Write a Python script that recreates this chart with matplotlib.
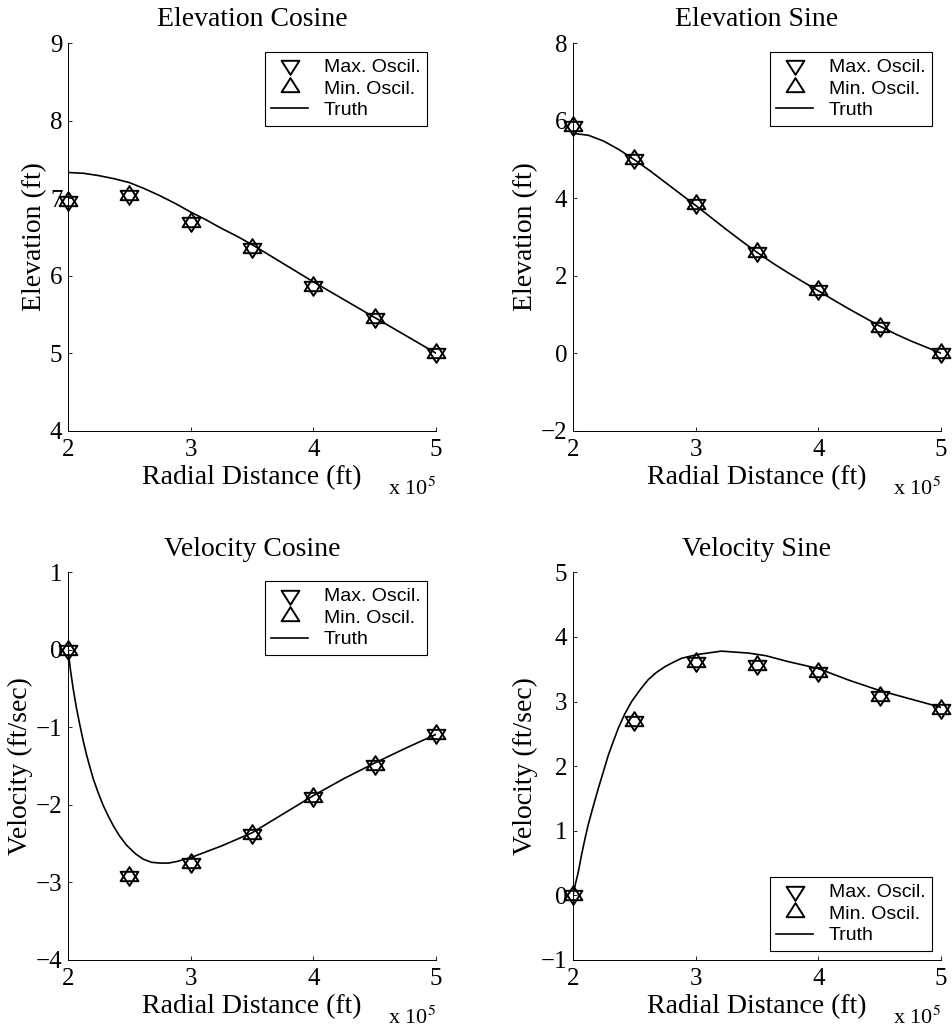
import matplotlib
matplotlib.use("Agg")
import matplotlib.pyplot as plt
from matplotlib.path import Path

plt.rcParams['font.family'] = ['Liberation Serif', 'DejaVu Serif']
plt.rcParams['mathtext.fontset'] = 'stix'
plt.rcParams['axes.unicode_minus'] = True

# ---- data (radial distance in units of 1e5 ft) ----
x_pts = [2.0, 2.5, 3.0, 3.5, 4.0, 4.5, 5.0]

elev_cos_max = [6.96, 7.04, 6.69, 6.35, 5.87, 5.45, 5.00]
elev_cos_min = [6.96, 7.04, 6.69, 6.35, 5.87, 5.45, 5.00]
elev_cos_tx = [2.0, 2.125, 2.25, 2.375, 2.5, 2.625, 2.75, 2.875, 3.0, 3.125, 3.25,
               3.375, 3.5, 3.625, 3.75, 3.875, 4.0, 4.25, 4.5, 4.75, 5.0]
elev_cos_ty = [7.33, 7.32, 7.29, 7.25, 7.20, 7.12, 7.03, 6.93, 6.82, 6.72, 6.61,
               6.51, 6.40, 6.28, 6.16, 6.04, 5.92, 5.69, 5.46, 5.23, 5.00]

elev_sin_max = [5.85, 5.00, 3.84, 2.60, 1.64, 0.67, 0.00]
elev_sin_min = [5.85, 5.00, 3.84, 2.60, 1.64, 0.67, 0.00]
elev_sin_tx = [2.0, 2.125, 2.25, 2.375, 2.5, 2.625, 2.75, 2.875, 3.0, 3.125, 3.25,
               3.375, 3.5, 3.625, 3.75, 3.875, 4.0, 4.125, 4.25, 4.375, 4.5,
               4.625, 4.75, 4.875, 5.0]
elev_sin_ty = [5.67, 5.62, 5.47, 5.25, 4.99, 4.71, 4.41, 4.11, 3.81, 3.50, 3.19,
               2.89, 2.60, 2.33, 2.08, 1.84, 1.61, 1.37, 1.14, 0.92, 0.70,
               0.50, 0.32, 0.16, 0.00]

vel_cos_max = [0.00, -2.92, -2.75, -2.38, -1.90, -1.48, -1.08]
vel_cos_min = [0.00, -2.92, -2.75, -2.38, -1.90, -1.48, -1.08]
vel_cos_tx = [2.0, 2.02, 2.043, 2.07, 2.098, 2.125, 2.152, 2.18, 2.207, 2.25, 2.288,
              2.33, 2.37, 2.42, 2.478, 2.55, 2.614, 2.68, 2.75, 2.82, 2.886, 3.0,
              3.25, 3.5, 3.75, 4.0, 4.25, 4.5, 4.75, 5.0]
vel_cos_ty = [0.00, -0.26, -0.51, -0.76, -0.98, -1.18, -1.36, -1.52, -1.67, -1.86, -2.01,
              -2.15, -2.27, -2.40, -2.52, -2.63, -2.70, -2.74, -2.75, -2.75, -2.73, -2.68,
              -2.53, -2.36, -2.12, -1.88, -1.66, -1.46, -1.27, -1.09]

vel_sin_max = [0.00, 2.70, 3.61, 3.56, 3.45, 3.09, 2.88]
vel_sin_min = [0.00, 2.70, 3.61, 3.56, 3.45, 3.09, 2.88]
vel_sin_tx = [2.0, 2.02, 2.043, 2.07, 2.098, 2.125, 2.152, 2.18, 2.207, 2.25, 2.288,
              2.33, 2.37, 2.42, 2.478, 2.55, 2.614, 2.68, 2.75, 2.82, 2.886, 3.02,
              3.21, 3.43, 3.57, 3.75, 4.0, 4.25, 4.5, 4.75, 5.0]
vel_sin_ty = [0.00, 0.18, 0.36, 0.63, 0.88, 1.10, 1.29, 1.48, 1.66, 1.93, 2.17,
              2.39, 2.59, 2.80, 3.00, 3.19, 3.34, 3.45, 3.54, 3.61, 3.67, 3.73,
              3.78, 3.75, 3.71, 3.62, 3.51, 3.33, 3.17, 3.04, 2.91]

titles = ["Elevation Cosine", "Elevation Sine", "Velocity Cosine", "Velocity Sine"]
ylabels = ["Elevation (ft)", "Elevation (ft)", "Velocity (ft/sec)", "Velocity (ft/sec)"]
xlabel = "Radial Distance (ft)"
ylims = [(4, 9), (-2, 8), (-4, 1), (-1, 5)]
yticks = [[4, 5, 6, 7, 8, 9], [-2, 0, 2, 4, 6, 8], [-4, -3, -2, -1, 0, 1],
          [-1, 0, 1, 2, 3, 4, 5]]
xticks = [2, 3, 4, 5]
legend_locs = ["upper right", "upper right", "upper right", "lower right"]
labels = ["Max. Oscil.", "Min. Oscil.", "Truth"]

panels = [
    (elev_cos_max, elev_cos_min, elev_cos_tx, elev_cos_ty),
    (elev_sin_max, elev_sin_min, elev_sin_tx, elev_sin_ty),
    (vel_cos_max, vel_cos_min, vel_cos_tx, vel_cos_ty),
    (vel_sin_max, vel_sin_min, vel_sin_tx, vel_sin_ty),
]

# centroid-centred triangles (overlap into a six-pointed star)
tri_up = Path([(0, 1), (-0.95, -0.5), (0.95, -0.5), (0, 1)],
              [Path.MOVETO, Path.LINETO, Path.LINETO, Path.CLOSEPOLY])
tri_down = Path([(0, -1), (-0.95, 0.5), (0.95, 0.5), (0, -1)],
                [Path.MOVETO, Path.LINETO, Path.LINETO, Path.CLOSEPOLY])

fig = plt.figure(figsize=(9.53, 10.32), dpi=100)
W, H = 953.0, 1032.0
lefts = [68 / W, 573 / W]
width = 368 / W
height = 387.7 / H
bottoms = [1 - 430.7 / H, 1 - 960 / H]

for i, (mx, mn, tx, ty) in enumerate(panels):
    r, c = divmod(i, 2)
    ax = fig.add_axes([lefts[c], bottoms[r], width, height])
    ax.plot(x_pts, mx, linestyle='none', marker=tri_down, markersize=13.5, mew=1.4,
            mfc='none', mec='black', clip_on=False, label=labels[0], zorder=3)
    ax.plot(x_pts, mn, linestyle='none', marker=tri_up, markersize=13.5, mew=1.4,
            mfc='none', mec='black', clip_on=False, label=labels[1], zorder=3)
    ax.plot(tx, ty, color='black', lw=1.2, label=labels[2], zorder=2)
    ax.set_xlim(2, 5)
    ax.set_ylim(*ylims[i])
    ax.set_xticks(xticks)
    ax.set_yticks(yticks[i])
    for s in ['top', 'right']:
        ax.spines[s].set_visible(False)
    for s in ['left', 'bottom']:
        ax.spines[s].set_linewidth(0.7)
    ax.tick_params(direction='in', length=3, width=0.6, labelsize=18)
    ax.tick_params(axis='x', pad=6)
    ax.tick_params(axis='y', pad=4)
    ax.set_title(titles[i], fontsize=20, pad=12)
    ax.set_xlabel(xlabel, fontsize=20, labelpad=3)
    ax.set_ylabel(ylabels[i], fontsize=20, labelpad=2)
    ax.text(1.0, -0.165, r'x 10$^5$', transform=ax.transAxes, ha='right',
            va='baseline', fontsize=16)
    leg = ax.legend(loc=legend_locs[i], numpoints=1, fancybox=False,
                    edgecolor='black', framealpha=1, borderaxespad=0.45,
                    prop={'family': 'Liberation Sans', 'size': 14},
                    handlelength=1.9, handletextpad=0.8, labelspacing=0.2,
                    borderpad=0.35)
    leg.get_frame().set_linewidth(0.8)

fig.savefig("out.png", dpi=100)
